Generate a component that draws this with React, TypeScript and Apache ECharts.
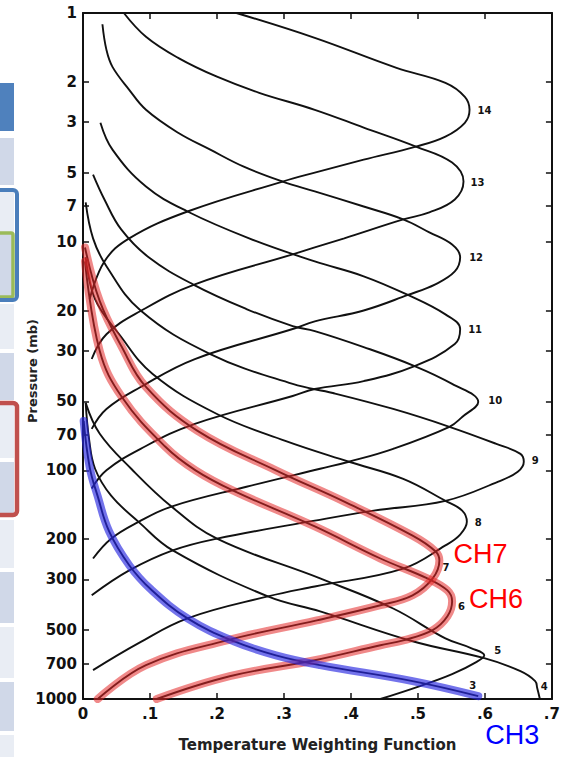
import React, { useEffect, useRef } from "react";
import * as echarts from "echarts";

type Pt = [number, number]; // [weighting value, pressure in mb]

const pressureTicks = [1, 2, 3, 5, 7, 10, 20, 30, 50, 70, 100, 200, 300, 500, 700, 1000];
const weightMin = 0;
const weightMax = 0.7;
const weightStep = 0.1;

const ch14: Pt[] = [[0.229, 1.0], [0.346, 1.285], [0.468, 1.738], [0.541, 2.02], [0.570, 2.325], [0.577, 2.65], [0.570, 3.02], [0.541, 3.47], [0.497, 3.84], [0.419, 4.38], [0.346, 4.99], [0.298, 5.46], [0.156, 7.38], [0.069, 9.67], [0.032, 12.2], [0.010, 17.8]];
const ch13: Pt[] = [[0.061, 1.0], [0.094, 1.27], [0.142, 1.571], [0.200, 1.90], [0.263, 2.233], [0.346, 2.65], [0.419, 3.17], [0.497, 3.84], [0.551, 4.51], [0.568, 5.46], [0.555, 6.54], [0.517, 7.45], [0.478, 7.99], [0.390, 9.67], [0.346, 10.6], [0.313, 11.36], [0.167, 15.36], [0.086, 20.1], [0.035, 25.4], [0.013, 32.6]];
const ch12: Pt[] = [[0.029, 1.12], [0.035, 1.45], [0.044, 1.72], [0.069, 2.167], [0.094, 2.65], [0.142, 3.34], [0.190, 3.96], [0.240, 4.70], [0.298, 5.46], [0.346, 6.03], [0.419, 7.02], [0.478, 7.99], [0.517, 9.11], [0.551, 10.3], [0.563, 11.7], [0.555, 13.5], [0.526, 15.36], [0.485, 17.1], [0.419, 20.0], [0.346, 22.3], [0.313, 24.1], [0.167, 32.6], [0.086, 43.2], [0.035, 53.9], [0.013, 65.9]];
const ch11: Pt[] = [[0.026, 3.02], [0.044, 3.96], [0.094, 5.74], [0.156, 7.38], [0.248, 9.67], [0.346, 12.2], [0.419, 14.17], [0.485, 17.1], [0.541, 20.8], [0.563, 24.1], [0.555, 28.05], [0.495, 35.0], [0.419, 40.7], [0.346, 44.1], [0.313, 47.3], [0.167, 62.6], [0.086, 80.5], [0.035, 100], [0.013, 120]];
const ch10: Pt[] = [[0.015, 5.09], [0.032, 6.54], [0.057, 8.84], [0.098, 11.7], [0.164, 15.36], [0.244, 19.7], [0.313, 23.4], [0.346, 24.6], [0.419, 28.9], [0.495, 35.0], [0.551, 41.9], [0.590, 50.2], [0.566, 58.4], [0.547, 64.5], [0.463, 80.5], [0.397, 91.7], [0.354, 98.4], [0.244, 118], [0.132, 144], [0.083, 168], [0.042, 199], [0.015, 243]];
const ch9: Pt[] = [[0.004, 6.74], [0.015, 9.67], [0.035, 12.8], [0.086, 20.0], [0.190, 31.0], [0.313, 41.9], [0.373, 45.9], [0.463, 53.9], [0.547, 64.5], [0.617, 76.6], [0.653, 84.7], [0.658, 91.7], [0.649, 101.4], [0.620, 112], [0.541, 136], [0.434, 150], [0.346, 166], [0.200, 199], [0.134, 224], [0.069, 274], [0.013, 352]];
const ch8: Pt[] = [[0.004, 11.7], [0.018, 17.85], [0.054, 25.4], [0.104, 37.9], [0.200, 56.7], [0.302, 74.3], [0.397, 91.7], [0.478, 109], [0.541, 136], [0.566, 150], [0.573, 168], [0.563, 191], [0.541, 213], [0.478, 269], [0.346, 322], [0.276, 356], [0.156, 444], [0.083, 570], [0.015, 748]];
const ch7: Pt[] = [[0.003, 10.6], [0.025, 18.2], [0.058, 28.9], [0.094, 43.2], [0.171, 67.2], [0.288, 100], [0.390, 137], [0.492, 193], [0.526, 226], [0.532, 248], [0.522, 297], [0.492, 352], [0.444, 389], [0.349, 453], [0.215, 554], [0.094, 711], [0.022, 1000]];
const ch6: Pt[] = [[0.003, 12.2], [0.025, 30.1], [0.058, 47.8], [0.123, 78.9], [0.168, 100], [0.225, 123], [0.346, 176], [0.444, 243], [0.514, 297], [0.544, 335], [0.551, 374], [0.544, 435], [0.522, 500], [0.478, 554], [0.444, 582], [0.346, 677], [0.219, 795], [0.110, 1000]];
const ch5: Pt[] = [[0.004, 50.7], [0.025, 69.2], [0.072, 98.4], [0.132, 144], [0.200, 199], [0.354, 297], [0.463, 402], [0.541, 543], [0.580, 600], [0.599, 644], [0.587, 690], [0.551, 779], [0.503, 878], [0.444, 1000]];
const ch4: Pt[] = [[0.004, 50.7], [0.009, 72.8], [0.018, 98.4], [0.042, 129], [0.083, 168], [0.134, 224], [0.276, 356], [0.354, 414], [0.492, 559], [0.599, 663], [0.653, 755], [0.675, 835], [0.678, 896], [0.682, 1000]];
const ch3: Pt[] = [[0.001, 60.8], [0.010, 97], [0.022, 130], [0.039, 185], [0.069, 260], [0.102, 333], [0.156, 444], [0.225, 559], [0.288, 644], [0.354, 711], [0.492, 835], [0.590, 971]];

const channelNames = ["14", "13", "12", "11", "10", "9", "8", "7", "6", "5", "4", "3"];
const channelData = [ch14, ch13, ch12, ch11, ch10, ch9, ch8, ch7, ch6, ch5, ch4, ch3];

const highlightNames = ["CH7", "CH6", "CH3"];
const highlightData = [ch7, ch6, ch3];

const numLabelPos: Record<string, any> = {
  "14": { position: "right", distance: 8, offset: [0, 1] },
  "13": { position: "right", distance: 7, offset: [0, 1] },
  "12": { position: "right", distance: 9, offset: [0, 0] },
  "11": { position: "right", distance: 8, offset: [0, 0] },
  "10": { position: "right", distance: 10, offset: [0, -1] },
  "9": { position: "right", distance: 8, offset: [0, -1] },
  "8": { position: "right", distance: 8, offset: [0, 1] },
  "7": { position: "right", distance: 3, offset: [0, 7] },
  "6": { position: "right", distance: 6, offset: [0, 5] },
  "5": { position: "right", distance: 10, offset: [0, -5] },
  "4": { position: "right", distance: 1, offset: [0, -13] },
  "3": { position: "left", distance: 2, offset: [0, -11] },
};

const hlStyle: Record<string, any> = {
  CH7: { color: "rgba(228,40,40,0.55)", text: "#ff0000", position: "right", distance: 14, offset: [0, -7] },
  CH6: { color: "rgba(228,40,40,0.55)", text: "#ff0000", position: "right", distance: 17, offset: [0, -2] },
  CH3: { color: "rgba(40,40,225,0.65)", text: "#0000ff", position: "right", distance: 7, offset: [0, 39] },
};

const toXY = (d: Pt[]) => d.map(([w, p]) => [w, Math.log10(p)]);
const anchorIndex = (d: Pt[]) => {
  let k = 0;
  d.forEach((pt, i) => {
    if (pt[0] > d[k][0]) k = i;
  });
  return k;
};
const withLabel = (d: Pt[], label: any) => {
  const k = anchorIndex(d);
  return toXY(d).map((v, i) => (i === k ? { value: v, label: { show: true, ...label } } : v));
};

const FONT = "DejaVu Sans";

export default function App() {
  const ref = useRef<HTMLDivElement>(null);
  useEffect(() => {
    document.body.style.margin = "0";
    if (!ref.current) return;
    const chart = echarts.init(ref.current, undefined, { renderer: "svg" });
    const tickLogs = pressureTicks.map((p) => Math.log10(p));
    const axisLineStyle = { color: "#111", width: 2 };

    const blackSeries = channelNames.map((name, i) => ({
      type: "line",
      name,
      data: withLabel(channelData[i], {
        formatter: name,
        fontSize: 10,
        fontWeight: "bold",
        fontFamily: FONT,
        color: "#111",
        ...numLabelPos[name],
      }),
      smooth: 0.4,
      symbol: "circle",
      symbolSize: 0,
      showSymbol: true,
      lineStyle: { color: "#111", width: 1.9 },
      itemStyle: { color: "#111" },
      label: { show: false },
      z: 2,
      silent: true,
      animation: false,
    }));

    const hlSeries = highlightNames.map((name, i) => {
      const s = hlStyle[name];
      return {
        type: "line",
        name,
        data: withLabel(highlightData[i], {
          formatter: name,
          fontSize: 27,
          fontFamily: "Liberation Sans",
          color: s.text,
          position: s.position,
          distance: s.distance,
          offset: s.offset,
        }),
        smooth: 0.4,
        symbol: "circle",
        symbolSize: 0,
        showSymbol: true,
        lineStyle: { color: s.color, width: 8, cap: "round" },
        itemStyle: { color: s.color },
        label: { show: false },
        z: 3,
        silent: true,
        animation: false,
      };
    });

    const rows = [
      { y: 83, h: 48, fill: "#4f81bd" },
      { y: 138, h: 47, fill: "#d0d8e8" },
      { y: 190, h: 42, fill: "#e9edf4" },
      { y: 233, h: 64, fill: "#d0d8e8" },
      { y: 304, h: 45, fill: "#e9edf4" },
      { y: 353, h: 47, fill: "#d0d8e8" },
      { y: 403, h: 55, fill: "#e9edf4" },
      { y: 462, h: 53, fill: "#d0d8e8" },
      { y: 520, h: 48, fill: "#e9edf4" },
      { y: 572, h: 51, fill: "#d0d8e8" },
      { y: 627, h: 51, fill: "#e9edf4" },
      { y: 682, h: 49, fill: "#d0d8e8" },
      { y: 735, h: 22, fill: "#e9edf4" },
    ];

    const graphic: any[] = rows.map((r) => ({
      type: "rect",
      shape: { x: 0, y: r.y, width: 14, height: r.h },
      style: { fill: r.fill },
      silent: true,
    }));
    graphic.push(
      { type: "rect", shape: { x: -4, y: 233, width: 17, height: 64, r: 2 }, style: { fill: "none", stroke: "#9bbb59", lineWidth: 3.5 }, silent: true },
      { type: "rect", shape: { x: -6, y: 190, width: 23, height: 110, r: 4 }, style: { fill: "none", stroke: "#4a7ebb", lineWidth: 4 }, silent: true },
      { type: "rect", shape: { x: -6, y: 403, width: 23, height: 112, r: 4 }, style: { fill: "none", stroke: "#c0504d", lineWidth: 4.5 }, silent: true },
      {
        type: "text",
        x: 32,
        y: 371,
        rotation: Math.PI / 2,
        style: {
          text: "Pressure (mb)",
          font: 'bold 13px "DejaVu Sans"',
          fill: "#222",
          textAlign: "center",
          textVerticalAlign: "middle",
          align: "center",
          verticalAlign: "middle",
        },
        silent: true,
      }
    );

    const option: any = {
      animation: false,
      backgroundColor: "#ffffff",
      grid: { left: 83, top: 13, right: 1, bottom: 56, containLabel: false },
      xAxis: [
        {
          type: "value",
          min: weightMin,
          max: weightMax,
          interval: weightStep,
          position: "bottom",
          axisLine: { show: true, onZero: false, lineStyle: axisLineStyle },
          axisTick: { show: true, inside: true, length: 6, lineStyle: { color: "#111", width: 1.5 } },
          axisLabel: {
            color: "#111",
            fontSize: 15,
            fontWeight: "bold",
            fontFamily: FONT,
            margin: 7,
            formatter: (v: number) => (v === 0 ? "0" : "." + Math.round(v * 10)),
          },
          splitLine: { show: false },
          name: "Temperature Weighting Function",
          nameLocation: "middle",
          nameGap: 38,
          nameTextStyle: { color: "#222", fontSize: 15, fontWeight: "bold", fontFamily: FONT },
        },
        {
          type: "value",
          min: weightMin,
          max: weightMax,
          interval: weightStep,
          position: "top",
          axisLine: { show: true, onZero: false, lineStyle: axisLineStyle },
          axisTick: { show: true, inside: true, length: 6, lineStyle: { color: "#111", width: 1.5 } },
          axisLabel: { show: false },
          splitLine: { show: false },
        },
      ],
      yAxis: [
        {
          type: "value",
          min: 0,
          max: 3,
          inverse: true,
          position: "left",
          axisLine: { show: true, onZero: false, lineStyle: axisLineStyle },
          axisTick: { show: true, inside: true, length: 6, customValues: tickLogs, lineStyle: { color: "#111", width: 1.5 } },
          axisLabel: {
            customValues: tickLogs,
            color: "#111",
            fontSize: 15,
            fontWeight: "bold",
            fontFamily: FONT,
            margin: 6,
            formatter: (v: number) => String(Math.round(Math.pow(10, v))),
          },
          splitLine: { show: false },
        },
        {
          type: "value",
          min: 0,
          max: 3,
          inverse: true,
          position: "right",
          axisLine: { show: true, onZero: false, lineStyle: axisLineStyle },
          axisTick: { show: true, inside: true, length: 6, customValues: tickLogs, lineStyle: { color: "#111", width: 1.5 } },
          axisLabel: { show: false },
          splitLine: { show: false },
        },
      ],
      graphic,
      series: [...blackSeries, ...hlSeries],
    };
    chart.setOption(option);
    return () => chart.dispose();
  }, []);
  return <div ref={ref} style={{ width: 563, height: 757 }} />;
}
